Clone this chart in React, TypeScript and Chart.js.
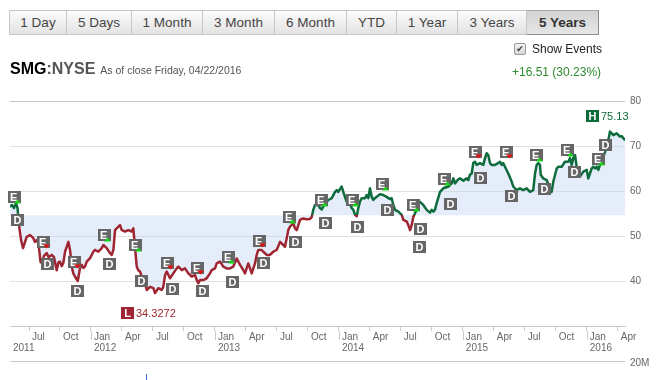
import React, { useEffect, useRef } from 'react';
import { Chart, registerables } from 'chart.js';

Chart.register(...registerables);

const FONT = "Arial, 'Liberation Sans', Helvetica, sans-serif";

// ---- data (x = months since Jan 2011, y = price in USD) ----
const BASELINE = 54.61;
const X_MIN = 4.16;
const X_MAX = 63.7;

const months = [
  4.16, 4.36, 4.55, 4.74, 4.89, 5.03, 5.23, 5.42, 5.78, 6.10,
  6.39, 6.58, 6.78, 6.92, 7.12, 7.26, 7.45, 7.72, 7.89, 8.20,
  8.42, 8.68, 8.86, 9.00, 9.17, 9.32, 9.49, 9.65, 9.81, 9.97,
  10.14, 10.29, 10.45, 10.72, 10.94, 11.10, 11.26, 11.42, 11.59, 11.91,
  12.23, 12.39, 12.71, 13.04, 13.20, 13.52, 13.84, 14.01, 14.17, 14.33,
  14.49, 14.81, 14.98, 15.30, 15.62, 15.94, 16.10, 16.26, 16.43, 16.58,
  16.75, 16.91, 17.23, 17.40, 17.72, 18.04, 18.20, 18.52, 18.85, 19.00,
  19.17, 19.33, 19.65, 19.97, 20.30, 20.46, 20.79, 21.10, 21.43, 21.75,
  22.07, 22.24, 22.39, 22.56, 22.88, 23.20, 23.52, 23.69, 24.01, 24.17,
  24.49, 24.81, 25.14, 25.46, 25.78, 26.11, 26.43, 26.75, 26.91, 27.23,
  27.56, 27.88, 28.04, 28.20, 28.53, 28.68, 29.01, 29.33, 29.65, 29.98,
  30.30, 30.62, 30.78, 30.95, 31.10, 31.27, 31.59, 31.75, 31.92, 32.24,
  32.56, 32.88, 33.20, 33.37, 33.52, 33.69, 34.01, 34.17, 34.34, 34.66,
  34.98, 35.31, 35.63, 35.79, 35.94, 36.27, 36.43, 36.59, 36.76, 36.91,
  37.24, 37.40, 37.56, 37.73, 37.88, 38.04, 38.21, 38.53, 38.69, 38.85,
  39.01, 39.18, 39.33, 39.49, 39.66, 39.98, 40.30, 40.63, 40.95, 41.11,
  41.27, 41.44, 41.76, 42.08, 42.24, 42.57, 42.72, 42.89, 43.05, 43.21,
  43.37, 43.69, 43.85, 44.17, 44.50, 44.82, 44.98, 45.14, 45.30, 45.47,
  45.79, 46.11, 46.60, 46.92, 47.08, 47.24, 47.56, 47.73, 48.05, 48.37,
  48.53, 48.69, 48.86, 49.01, 49.18, 49.34, 49.66, 49.98, 50.15, 50.31,
  50.46, 50.63, 50.79, 51.11, 51.43, 51.60, 51.76, 51.91, 52.08, 52.40,
  52.73, 52.88, 53.21, 53.53, 53.85, 54.18, 54.50, 54.82, 54.99, 55.15,
  55.31, 55.47, 55.54, 55.79, 56.12, 56.44, 56.60, 56.76, 57.09, 57.24,
  57.57, 57.89, 58.21, 58.37, 58.54, 58.69, 58.86, 59.02, 59.34, 59.66,
  59.99, 60.15, 60.47, 60.63, 60.80, 60.96, 61.12, 61.28, 61.60, 61.77,
  62.08, 62.25, 62.41, 62.57, 62.90, 63.21, 63.38, 63.70,
];

const prices = [
  56.5, 56.9, 56.2, 57.3, 56.2, 52.4, 49.1, 47.3, 49.8, 50.2,
  49.6, 48.7, 49.1, 48.2, 44.2, 44.0, 45.6, 46.2, 45.3, 45.8,
  45.3, 42.4, 44.2, 44.3, 43.3, 44.0, 46.5, 47.6, 48.7, 46.9,
  43.2, 41.7, 41.0, 40.0, 42.9, 43.6, 42.9, 43.2, 44.3, 45.1,
  46.5, 46.9, 46.5, 47.3, 48.0, 47.3, 46.2, 45.8, 46.9, 51.3,
  51.7, 52.4, 51.3, 51.0, 51.3, 51.0, 51.7, 47.6, 43.2, 42.4,
  42.1, 41.0, 39.5, 38.0, 38.7, 38.4, 37.3, 38.4, 38.0, 38.7,
  41.3, 42.1, 40.6, 41.7, 42.8, 43.2, 42.4, 42.8, 41.7, 41.0,
  41.3, 40.2, 39.5, 40.2, 40.2, 40.6, 41.7, 42.4, 42.8, 43.9,
  44.3, 43.2, 42.8, 42.8, 43.2, 45.0, 43.6, 42.4, 41.7, 43.9,
  41.7, 43.9, 45.8, 46.9, 46.9, 46.5, 45.8, 45.8, 46.5, 46.9,
  48.7, 48.0, 47.6, 49.5, 51.3, 52.1, 52.8, 51.7, 51.3, 53.6,
  53.9, 53.7, 53.8, 54.2, 55.8, 56.9, 56.9, 56.2, 55.9, 57.3,
  58.0, 58.4, 59.8, 60.2, 59.8, 61.0, 59.8, 58.7, 57.6, 58.0,
  56.2, 55.8, 54.7, 54.4, 56.2, 57.6, 58.4, 58.4, 59.1, 58.4,
  60.6, 58.7, 58.0, 58.4, 58.7, 59.3, 59.1, 58.7, 58.2, 58.4,
  56.9, 55.8, 55.4, 54.7, 53.6, 53.2, 52.4, 51.3, 52.4, 54.3,
  55.0, 57.3, 57.6, 56.9, 55.8, 55.2, 55.8, 55.4, 55.8, 57.3,
  59.8, 60.6, 61.0, 61.7, 62.8, 61.7, 62.6, 62.8, 62.3, 62.8,
  62.4, 63.6, 63.9, 66.2, 66.5, 65.8, 66.2, 65.8, 67.3, 68.4,
  68.0, 66.2, 65.8, 65.8, 66.2, 66.5, 65.8, 66.2, 65.4, 63.9,
  62.1, 61.0, 60.2, 60.6, 60.2, 60.6, 59.8, 60.2, 63.9, 65.8,
  66.2, 65.8, 63.6, 62.8, 62.4, 60.6, 59.8, 62.1, 65.0, 65.4,
  65.4, 66.5, 66.5, 67.3, 65.8, 67.3, 68.0, 65.4, 63.2, 64.3,
  64.7, 62.8, 65.0, 65.4, 65.0, 65.4, 64.7, 65.8, 67.6, 68.7,
  71.3, 73.2, 72.8, 72.4, 72.8, 72.1, 72.2, 71.3,
];

const xTickMonths = [6, 9, 12, 15, 18, 21, 24, 27, 30, 33, 36, 39, 42, 45, 48, 51, 54, 57, 60, 63];
const quarterNames = ['Jan', 'Apr', 'Jul', 'Oct'];
const FIRST_YEAR = 2011;
const yTickValues = [40, 50, 60, 70, 80];

// Earnings events (E) : month, marker level, surprise direction
const earningsMonths = [4.60, 7.36, 10.38, 13.30, 16.31, 19.39, 22.36, 25.34, 28.32, 31.22, 34.34, 37.34, 40.19, 43.19, 46.20, 49.27, 52.21, 55.11, 58.15, 61.15];
const earningsLevels = [58.7, 48.7, 44.2, 50.3, 47.9, 44.1, 43.0, 45.4, 49.0, 54.2, 58.1, 57.9, 61.5, 56.8, 62.6, 68.6, 68.6, 68.1, 69.1, 67.1];
const earningsUp = [true, false, false, true, true, false, false, true, false, true, true, true, true, true, true, false, false, true, true, true];

// Dividend events (D) : month, marker level
const dividendMonths = [4.84, 7.81, 10.72, 13.82, 16.85, 19.88, 22.75, 25.72, 28.73, 31.84, 34.69, 37.79, 40.73, 43.90, 43.85, 46.85, 49.73, 52.73, 55.86, 58.79, 61.86];
const dividendLevels = [53.6, 43.8, 37.8, 43.8, 40.0, 38.3, 37.7, 39.8, 43.9, 48.6, 52.8, 51.9, 55.7, 51.6, 47.6, 57.2, 63.0, 58.8, 60.5, 64.2, 70.2];

const highMonth = 60.52;
const highLevel = 76.7;
const highText = '75.13';
const lowMonth = 15.51;
const lowLevel = 33.0;
const lowText = '34.3272';

const volumeSpikeMonths = [17.33];
const volumeLabel = '20M';

const rangeButtons = ['1 Day', '5 Days', '1 Month', '3 Month', '6 Month', 'YTD', '1 Year', '3 Years', '5 Years'];
const activeRange = '5 Years';

const GREEN = '#0d6b3c';
const RED = '#9e2531';
const BOX = '#666666';

const overlayPlugin = {
  id: 'overlay',
  afterDatasetsDraw(chart: any) {
    const { ctx, scales } = chart;
    const xs = scales.x;
    const ys = scales.y;
    ctx.save();
    ctx.textBaseline = 'middle';

    const drawBox = (m: number, p: number, letter: string, bg: string, center: boolean) => {
      const cx = xs.getPixelForValue(m);
      const cy = ys.getPixelForValue(p);
      const left = Math.round(cx - 6.5);
      const top = Math.round(cy - 6);
      ctx.fillStyle = bg;
      ctx.fillRect(left, top, 13, 12);
      ctx.fillStyle = '#ffffff';
      ctx.font = `bold 11px ${FONT}`;
      if (center) {
        ctx.textAlign = 'center';
        ctx.fillText(letter, left + 6.5, top + 6.5);
      } else {
        ctx.textAlign = 'left';
        ctx.fillText(letter, left + 2, top + 6.5);
      }
      return { left, top };
    };

    earningsMonths.forEach((m, i) => {
      const { left, top } = drawBox(m, earningsLevels[i], 'E', BOX, false);
      const r = left + 13;
      const b = top + 12;
      ctx.beginPath();
      if (earningsUp[i]) {
        ctx.fillStyle = '#16d416';
        ctx.moveTo(r - 7, b + 0.5);
        ctx.lineTo(r, b + 0.5);
        ctx.lineTo(r - 3.5, b - 3.5);
      } else {
        ctx.fillStyle = '#e01010';
        ctx.moveTo(r - 7, b - 3.5);
        ctx.lineTo(r, b - 3.5);
        ctx.lineTo(r - 3.5, b + 0.5);
      }
      ctx.closePath();
      ctx.fill();
    });

    dividendMonths.forEach((m, i) => {
      drawBox(m, dividendLevels[i], 'D', BOX, true);
    });

    const h = drawBox(highMonth, highLevel, 'H', GREEN, true);
    ctx.font = `11px ${FONT}`;
    ctx.textAlign = 'left';
    ctx.fillStyle = GREEN;
    ctx.fillText(highText, h.left + 15, h.top + 6.5);

    const l = drawBox(lowMonth, lowLevel, 'L', RED, true);
    ctx.font = `11px ${FONT}`;
    ctx.textAlign = 'left';
    ctx.fillStyle = RED;
    ctx.fillText(lowText, l.left + 15, l.top + 6.5);
    ctx.restore();
  },
  afterDraw(chart: any) {
    const { ctx, scales, chartArea } = chart;
    const xs = scales.x;
    ctx.save();
    ctx.strokeStyle = '#cccccc';
    ctx.lineWidth = 1;
    // longer tick marks at year starts
    xTickMonths.filter((m) => m % 12 === 0).forEach((m) => {
      const px = Math.round(xs.getPixelForValue(m)) + 0.5;
      ctx.beginPath();
      ctx.moveTo(px, chartArea.bottom + 5);
      ctx.lineTo(px, chartArea.bottom + 14);
      ctx.stroke();
    });
    // volume pane separator
    const vy = chartArea.bottom + 35.5;
    ctx.strokeStyle = '#c8c8c8';
    ctx.beginPath();
    ctx.moveTo(chartArea.left, vy);
    ctx.lineTo(chartArea.right, vy);
    ctx.stroke();
    ctx.fillStyle = '#666666';
    ctx.font = `10px ${FONT}`;
    ctx.textAlign = 'left';
    ctx.textBaseline = 'middle';
    ctx.fillText(volumeLabel, chartArea.right + 5, vy + 2);
    ctx.strokeStyle = '#3b6fd0';
    volumeSpikeMonths.forEach((m) => {
      const px = Math.round(xs.getPixelForValue(m)) + 0.5;
      ctx.beginPath();
      ctx.moveTo(px, vy + 12.5);
      ctx.lineTo(px, vy + 19);
      ctx.stroke();
    });
    ctx.restore();
  },
};

function PriceChart() {
  const ref = useRef<HTMLCanvasElement | null>(null);
  useEffect(() => {
    if (!ref.current) return;
    const points = months.map((m, i) => ({ x: m, y: prices[i] }));
    const chart = new Chart(ref.current, {
      type: 'line',
      data: {
        datasets: [
          {
            data: points,
            borderWidth: 2.5,
            borderJoinStyle: 'round',
            pointRadius: 0,
            tension: 0,
            fill: { value: BASELINE },
            backgroundColor: 'rgba(200, 214, 245, 0.45)',
            borderColor: (c: any) => {
              const { chart: ch } = c;
              const area = ch.chartArea;
              if (!area) return GREEN;
              const yb = ch.scales.y.getPixelForValue(BASELINE);
              const t = Math.min(1, Math.max(0, (yb - area.top) / (area.bottom - area.top)));
              const g = ch.ctx.createLinearGradient(0, area.top, 0, area.bottom);
              g.addColorStop(0, GREEN);
              g.addColorStop(t, GREEN);
              g.addColorStop(t, RED);
              g.addColorStop(1, RED);
              return g;
            },
          } as any,
        ],
      },
      options: {
        animation: false,
        responsive: false,
        devicePixelRatio: 1,
        layout: { padding: { left: 10, top: 101, right: 0, bottom: 0 } },
        plugins: { legend: { display: false }, tooltip: { enabled: false } },
        scales: {
          x: {
            type: 'linear',
            min: X_MIN,
            max: X_MAX,
            afterBuildTicks: (scale: any) => {
              scale.ticks = [X_MIN, ...xTickMonths].map((v) => ({ value: v }));
            },
            afterFit: (scale: any) => {
              scale.height = 54;
            },
            grid: {
              drawOnChartArea: false,
              drawTicks: true,
              tickLength: 5,
              tickColor: (c: any) => (c.index === 0 ? 'rgba(0,0,0,0)' : '#cccccc'),
            },
            border: { display: true, color: '#c8c8c8' },
            ticks: {
              autoSkip: false,
              maxRotation: 0,
              minRotation: 0,
              align: 'start',
              padding: 1,
              labelOffset: (c: any) => (c.index === 0 ? 1 : 3),
              color: '#666666',
              font: { family: FONT, size: 10, lineHeight: '11px' },
              callback: (value: any, index: number) => {
                if (index === 0) return ['', String(FIRST_YEAR)];
                const v = Number(value);
                const q = Math.round(v) % 12;
                const name = quarterNames[q / 3];
                if (q === 0) return [name, String(FIRST_YEAR + Math.round(v) / 12)];
                return name;
              },
            },
          },
          y: {
            type: 'linear',
            position: 'right',
            min: 30,
            max: 80,
            afterBuildTicks: (scale: any) => {
              scale.ticks = yTickValues.map((v) => ({ value: v }));
            },
            afterFit: (scale: any) => {
              scale.width = 35;
            },
            grid: {
              drawTicks: false,
              color: (c: any) => (c.tick && c.tick.value === 80 ? '#c4c4c4' : '#e0e0e0'),
            },
            border: { display: false },
            ticks: {
              padding: 5,
              color: '#666666',
              font: { family: FONT, size: 10 },
              callback: (v: any) => String(v),
            },
          },
        },
      } as any,
      plugins: [overlayPlugin],
    });
    return () => chart.destroy();
  }, []);
  return (
    <canvas
      ref={ref}
      width={660}
      height={380}
      style={{ position: 'absolute', left: 0, top: 0, width: 660, height: 380 }}
    />
  );
}

const buttonWidths = [58, 65, 71, 72, 72, 50, 61, 69, 72];

export default function App() {
  return (
    <div
      style={{
        position: 'absolute',
        left: 0,
        top: 0,
        width: 660,
        height: 380,
        background: '#ffffff',
        fontFamily: FONT,
        overflow: 'hidden',
      }}
    >
      <PriceChart />
      <div style={{ position: 'absolute', left: 9, top: 10, display: 'flex', height: 25 }}>
        {rangeButtons.map((b, i) => {
          const active = b === activeRange;
          return (
            <div
              key={b}
              style={{
                boxSizing: 'border-box',
                width: buttonWidths[i],
                height: 25,
                display: 'flex',
                alignItems: 'center',
                justifyContent: 'center',
                fontSize: 13.5,
                color: active ? '#333333' : '#454545',
                fontWeight: active ? 'bold' : 'normal',
                borderTop: `1px solid ${active ? '#a8a8a8' : '#c6c6c6'}`,
                borderBottom: `1px solid ${active ? '#8e8e8e' : '#c6c6c6'}`,
                borderRight: `1px solid ${active ? '#8e8e8e' : '#c6c6c6'}`,
                borderLeft: i === 0 ? '1px solid #c6c6c6' : 'none',
                background: active
                  ? 'linear-gradient(#d2d2d2, #e6e6e6)'
                  : 'linear-gradient(#fbfbfb, #e3e3e3)',
              }}
            >
              {b}
            </div>
          );
        })}
      </div>
      <div
        style={{
          position: 'absolute',
          left: 514,
          top: 43,
          width: 12,
          height: 12,
          boxSizing: 'border-box',
          border: '1px solid #9a9a9a',
          borderRadius: 2,
          background: 'linear-gradient(#f2f2f2, #d6d6d6)',
          fontSize: 9,
          lineHeight: '10px',
          textAlign: 'center',
          color: '#333',
          fontFamily: "'DejaVu Sans', sans-serif",
        }}
      >
        ✔
      </div>
      <div style={{ position: 'absolute', left: 532, top: 43, fontSize: 12, lineHeight: '12px', color: '#222' }}>
        Show Events
      </div>
      <div style={{ position: 'absolute', left: 512, top: 66, fontSize: 12, lineHeight: '12px', color: '#2e8b2e' }}>
        +16.51 (30.23%)
      </div>
      <div style={{ position: 'absolute', left: 10, top: 61, lineHeight: '16px', whiteSpace: 'nowrap' }}>
        <span style={{ fontSize: 16, fontWeight: 'bold', color: '#000' }}>SMG</span>
        <span style={{ fontSize: 16, fontWeight: 'bold', color: '#555' }}>:NYSE</span>
        <span style={{ fontSize: 10.5, color: '#555', marginLeft: 5 }}>As of close Friday, 04/22/2016</span>
      </div>
    </div>
  );
}
